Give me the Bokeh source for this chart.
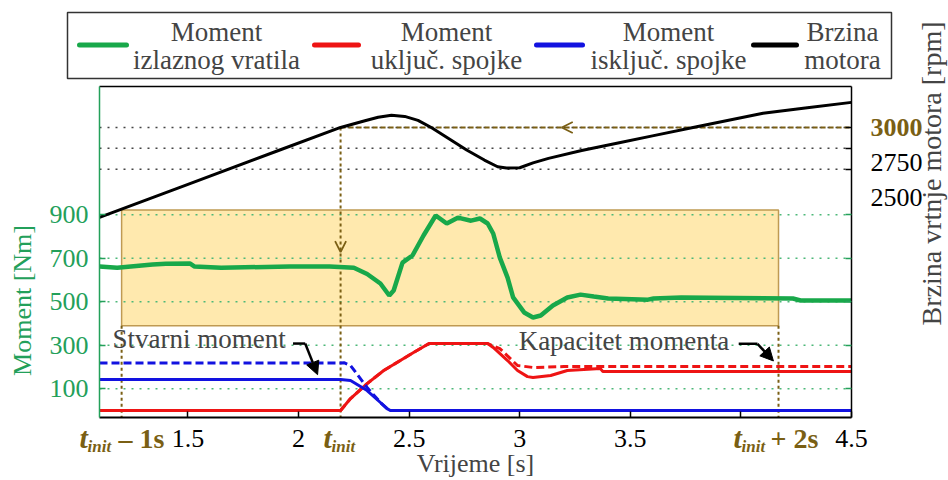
import math
from bokeh.plotting import figure
from bokeh.models import (Range1d, LinearAxis, FixedTicker, Label, Arrow,
                          OpenHead, NormalHead)
from bokeh.embed import file_html
from bokeh.resources import INLINE

# ---------------- data ----------------
time_ticks = [1.5, 2.0, 2.5, 3.0, 3.5, 4.0, 4.5]
time_tick_labels = ["1.5", "2", "2.5", "3", "3.5", "", "4.5"]
moment_ticks = [100, 300, 500, 700, 900]
rpm_ticks = [2500, 2750, 3000]
rpm_tick_labels = ["2500", "2750", "3000"]

t_marks = [1.2, 2.19, 4.17]            # t_init - 1s, t_init, t_init + 2s
t_mark_suffix = ["\u2013 1s", "", "+ 2s"]
rpm_ref = 3000
box_moment = [390, 922]

legend_line1 = ["Moment", "Moment", "Moment", "Brzina"]
legend_line2 = ["izlaznog vratila", "uklju\u010d. spojke", "isklju\u010d. spojke", "motora"]

# output shaft torque [Nm]
time_out = [1.10, 1.18, 1.34, 1.40, 1.51, 1.53, 1.65, 1.96, 2.14, 2.25, 2.31, 2.37,
            2.41, 2.43, 2.47, 2.515, 2.565, 2.62, 2.67, 2.72, 2.78, 2.82, 2.855,
            2.88, 2.91, 2.945, 2.97, 3.02, 3.06, 3.095, 3.15, 3.215, 3.275, 3.335,
            3.40, 3.58, 3.605, 3.73, 4.235, 4.27, 4.50]
moment_out = [662, 657, 671, 675, 676, 662, 657, 662, 662, 657, 628, 584,
              529, 552, 680, 713, 805, 897, 860, 887, 873, 883, 860,
              814, 703, 611, 520, 451, 428, 437, 483, 520, 533, 524,
              515, 510, 515, 520, 515, 506, 506]

# engaging clutch torque (actual) and capacity
time_eng = [1.10, 2.19, 2.235, 2.31, 2.385, 2.46, 2.52, 2.59, 2.855, 2.88, 2.945,
            2.99, 3.035, 3.06, 3.14, 3.215, 3.365, 3.375, 4.50]
moment_eng = [0, 0, 55, 124, 184, 230, 267, 308, 308, 290, 230,
              184, 156, 152, 161, 184, 193, 180, 180]
time_eng_cap = [1.10, 2.19, 2.235, 2.31, 2.385, 2.46, 2.52, 2.59, 2.855, 2.91,
                2.99, 3.06, 3.20, 4.50]
moment_eng_cap = [0, 0, 55, 124, 184, 230, 267, 308, 308, 285,
                  207, 198, 202, 202]

# disengaging clutch torque (actual) and capacity
time_dis = [1.10, 2.19, 2.235, 2.31, 2.37, 2.40, 2.415, 4.50]
moment_dis = [143, 143, 138, 92, 37, 9, 0, 0]
time_dis_cap = [1.10, 2.19, 2.205, 2.235, 2.31, 2.37, 2.40, 2.415, 4.50]
moment_dis_cap = [219, 219, 220, 207, 106, 37, 9, 0, 0]

# engine speed [rpm]
time_speed = [1.10, 1.50, 1.90, 2.19, 2.30, 2.36, 2.42, 2.48, 2.54, 2.60, 2.68,
              2.76, 2.84, 2.90, 2.94, 3.00, 3.06, 3.13, 3.28, 3.45, 3.60, 3.80,
              4.10, 4.30, 4.50]
speed = [1925, 2320, 2715, 3000, 3080, 3122, 3145, 3132, 3085, 3000, 2865,
         2730, 2610, 2530, 2515, 2518, 2576, 2630, 2725, 2817, 2899, 3008,
         3170, 3235, 3300]

# ---------------- style / layout ----------------
SERIF = "Liberation Serif"
GREEN = "#18a84a"
GREEN_AX = "#23a05a"
RED = "#ee1414"
BLUE = "#1212e0"
GOLD = "#7a5f14"

W, H = 948, 480
PX_L, PX_R, PX_T, PX_B = 99, 851, 86, 417      # plot area inside the canvas
X_MIN, X_MAX = 1.1, 4.5
M_MIN, M_MAX = -32, 1490
R_MIN, R_MAX = -470, 3490

sx = (PX_R - PX_L) / (X_MAX - X_MIN)
sm = (PX_B - PX_T) / (M_MAX - M_MIN)
sr = (PX_B - PX_T) / (R_MAX - R_MIN)
x_start, x_end = X_MIN - PX_L / sx, X_MAX + (W - PX_R) / sx
m_start, m_end = M_MIN - (H - PX_B) / sm, M_MAX + PX_T / sm
r_start, r_end = R_MIN - (H - PX_B) / sr, R_MAX + PX_T / sr


def tx(px):
    return x_start + px / sx


def my(py):
    return m_end - py / sm


p = figure(width=W, height=H, x_range=Range1d(x_start, x_end),
           y_range=Range1d(m_start, m_end), output_backend="svg",
           toolbar_location=None, min_border=0, outline_line_color=None)
p.extra_y_ranges = {"rpm": Range1d(r_start, r_end)}
p.xgrid.visible = False
p.ygrid.visible = False

# bottom axis
xa = p.xaxis[0]
xa.fixed_location = M_MIN
xa.bounds = (X_MIN, X_MAX)
xa.ticker = FixedTicker(ticks=time_ticks)
xa.major_label_overrides = {t: lab for t, lab in zip(time_ticks, time_tick_labels)}
xa.major_tick_in = 6
xa.major_tick_out = 0
xa.minor_tick_line_color = None
xa.axis_line_color = "black"
xa.axis_line_width = 2
xa.major_tick_line_width = 1.5
xa.major_label_text_font = SERIF
xa.major_label_text_font_size = "26px"
xa.major_label_text_color = "black"
xa.major_label_standoff = 12

# left axis
ya = p.yaxis[0]
ya.fixed_location = X_MIN
ya.bounds = (M_MIN, M_MAX)
ya.ticker = FixedTicker(ticks=moment_ticks)
ya.major_tick_in = 6
ya.major_tick_out = 0
ya.minor_tick_line_color = None
ya.axis_line_color = GREEN_AX
ya.axis_line_width = 1.5
ya.major_tick_line_color = GREEN_AX
ya.major_tick_line_width = 1.5
ya.major_label_text_font = SERIF
ya.major_label_text_font_size = "26px"
ya.major_label_text_color = GREEN_AX
ya.major_label_standoff = 11

# right axis (rpm), ticks only
ra = LinearAxis(y_range_name="rpm", fixed_location=X_MAX, bounds=(R_MIN, R_MAX),
                ticker=FixedTicker(ticks=rpm_ticks),
                major_tick_in=6, major_tick_out=0, minor_tick_line_color=None,
                axis_line_color="black", axis_line_width=1.5,
                major_tick_line_width=1.5,
                major_label_overrides={r: "" for r in rpm_ticks})
p.add_layout(ra, "right")
# right-side mirror ticks of the moment axis
rm = LinearAxis(fixed_location=X_MAX, bounds=(M_MIN, M_MAX),
                ticker=FixedTicker(ticks=moment_ticks),
                major_tick_in=6, major_tick_out=0, minor_tick_line_color=None,
                axis_line_color=None, major_tick_line_color=GREEN_AX,
                major_tick_line_width=1.5,
                major_label_overrides={m: "" for m in moment_ticks})
p.add_layout(rm, "right")
# top frame edge
ta = LinearAxis(fixed_location=M_MAX, bounds=(X_MIN, X_MAX),
                ticker=FixedTicker(ticks=[]), major_tick_in=0, major_tick_out=0,
                minor_tick_line_color=None, axis_line_color="black",
                axis_line_width=1.5)
p.add_layout(ta, "above")

# highlighted window
p.quad(left=t_marks[0], right=t_marks[2], bottom=box_moment[0], top=box_moment[1],
       fill_color="#ffe08c", fill_alpha=0.7, line_color="#bf9a52", line_width=1.5)

# dotted grid lines
p.segment(x0=[X_MIN] * len(moment_ticks), x1=[X_MAX] * len(moment_ticks),
          y0=moment_ticks, y1=moment_ticks, line_color="#4cb878",
          line_dash="2 6", line_width=1.5)
p.segment(x0=[X_MIN] * len(rpm_ticks), x1=[X_MAX] * len(rpm_ticks),
          y0=rpm_ticks, y1=rpm_ticks, y_range_name="rpm", line_color="#444444",
          line_dash="2 6", line_width=1.5)

# golden reference lines
p.line([t_marks[1], t_marks[1]], [rpm_ref, R_MIN], y_range_name="rpm",
       line_color=GOLD, line_width=2, line_dash="3 3")
p.line([t_marks[1], X_MAX], [rpm_ref, rpm_ref], y_range_name="rpm",
       line_color=GOLD, line_width=2, line_dash="5 3")
for t in (t_marks[0], t_marks[2]):
    p.line([t, t], [box_moment[0], M_MIN], line_color=GOLD, line_width=2,
           line_dash="3 3")
p.add_layout(Arrow(end=OpenHead(size=11, line_color=GOLD, line_width=1.8),
                   x_start=t_marks[1], y_start=800, x_end=t_marks[1], y_end=728,
                   line_alpha=0))
p.add_layout(Arrow(end=OpenHead(size=11, line_color=GOLD, line_width=1.8),
                   x_start=3.30, y_start=rpm_ref, x_end=3.19, y_end=rpm_ref,
                   y_range_name="rpm", line_alpha=0))

# series
p.line(time_out, moment_out, line_color=GREEN, line_width=4.5)
p.line(time_eng_cap, moment_eng_cap, line_color=RED, line_width=3, line_dash="8 4")
p.line(time_eng, moment_eng, line_color=RED, line_width=3)
p.line(time_dis_cap, moment_dis_cap, line_color=BLUE, line_width=3, line_dash="8 4")
p.line(time_dis, moment_dis, line_color=BLUE, line_width=3)
p.line(time_speed, speed, y_range_name="rpm", line_color="black", line_width=3)

# annotations with arrows
p.add_layout(Label(x=1.159, y=329, text="Stvarni moment", text_font=SERIF,
                   text_font_size="27px", text_baseline="middle", text_align="left"))
p.line([1.975, 2.03], [308, 308], line_color="black", line_width=2.5)
p.add_layout(Arrow(end=NormalHead(size=13, fill_color="black", line_color="black"),
                   x_start=2.03, y_start=308, x_end=2.086, y_end=165,
                   line_color="black", line_width=2.5))
p.add_layout(Label(x=2.995, y=321, text="Kapacitet momenta", text_font=SERIF,
                   text_font_size="27px", text_baseline="middle", text_align="left"))
p.line([3.99, 4.075], [307, 307], line_color="black", line_width=2.5)
p.add_layout(Arrow(end=NormalHead(size=13, fill_color="black", line_color="black"),
                   x_start=4.075, y_start=307, x_end=4.147, y_end=228,
                   line_color="black", line_width=2.5))

# t_init tick labels (t + subscript "init" + suffix)
t_left = [-42, -17, -45]
init_left = [-34, -9, -37]
suffix_left = [-3, 0, -8]
for i, t in enumerate(t_marks):
    p.add_layout(Label(x=t, y=my(437), x_offset=t_left[i], text="t",
                       text_font=SERIF, text_font_size="30px", text_font_style="bold italic",
                       text_color=GOLD, text_align="left", text_baseline="middle"))
    p.add_layout(Label(x=t, y=my(446), x_offset=init_left[i], text="init",
                       text_font=SERIF, text_font_size="17px", text_font_style="bold italic",
                       text_color=GOLD, text_align="left", text_baseline="middle"))
    if t_mark_suffix[i]:
        p.add_layout(Label(x=t, y=my(438), x_offset=suffix_left[i],
                           text=t_mark_suffix[i], text_font=SERIF, text_font_size="28px",
                           text_font_style="bold", text_color=GOLD, text_align="left",
                           text_baseline="middle"))

# right tick labels (rpm)
rpm_label_shift = [-28, -14, 0]
for r, lab, sh in zip(rpm_ticks, rpm_tick_labels, rpm_label_shift):
    is_ref = (r == rpm_ref)
    p.add_layout(Label(x=X_MAX, y=r, y_range_name="rpm", x_offset=19, y_offset=sh,
                       text=lab, text_font=SERIF, text_font_size="26px",
                       text_font_style="bold" if is_ref else "normal",
                       text_color=GOLD if is_ref else "black",
                       text_align="left", text_baseline="middle"))

# axis titles
p.add_layout(Label(x=(X_MIN + X_MAX) / 2, y=my(463), text="Vrijeme [s]",
                   text_font=SERIF, text_font_size="26px", text_align="center",
                   text_baseline="middle"))
p.add_layout(Label(x=tx(22), y=my(300), text="Moment [Nm]", angle=math.pi / 2,
                   text_font=SERIF, text_font_size="26px", text_color=GREEN_AX,
                   text_align="center", text_baseline="middle"))
p.add_layout(Label(x=tx(931), y=my(173), text="Brzina vrtnje motora [rpm]",
                   angle=math.pi / 2, text_font=SERIF, text_font_size="28px",
                   text_align="center", text_baseline="middle"))

# legend (above the plot area)
p.quad(left=tx(67), right=tx(891), top=my(12), bottom=my(78), fill_color="white",
       line_color="#333333", line_width=1.5)
leg_colors = [GREEN, RED, BLUE, "black"]
leg_sample = [(79, 126), (314, 358), (536, 582), (753, 796)]
leg_center = [216, 446, 668, 842]
for i in range(4):
    p.segment(x0=[tx(leg_sample[i][0])], x1=[tx(leg_sample[i][1])],
              y0=[my(44.5)], y1=[my(44.5)], line_color=leg_colors[i],
              line_width=5, line_cap="round")
    p.add_layout(Label(x=tx(leg_center[i]), y=my(31), text=legend_line1[i],
                       text_font=SERIF, text_font_size="27px",
                       text_align="center", text_baseline="middle"))
    p.add_layout(Label(x=tx(leg_center[i]), y=my(59), text=legend_line2[i],
                       text_font=SERIF, text_font_size="27px",
                       text_align="center", text_baseline="middle"))

open("out.html", "w").write(file_html(p, INLINE))
